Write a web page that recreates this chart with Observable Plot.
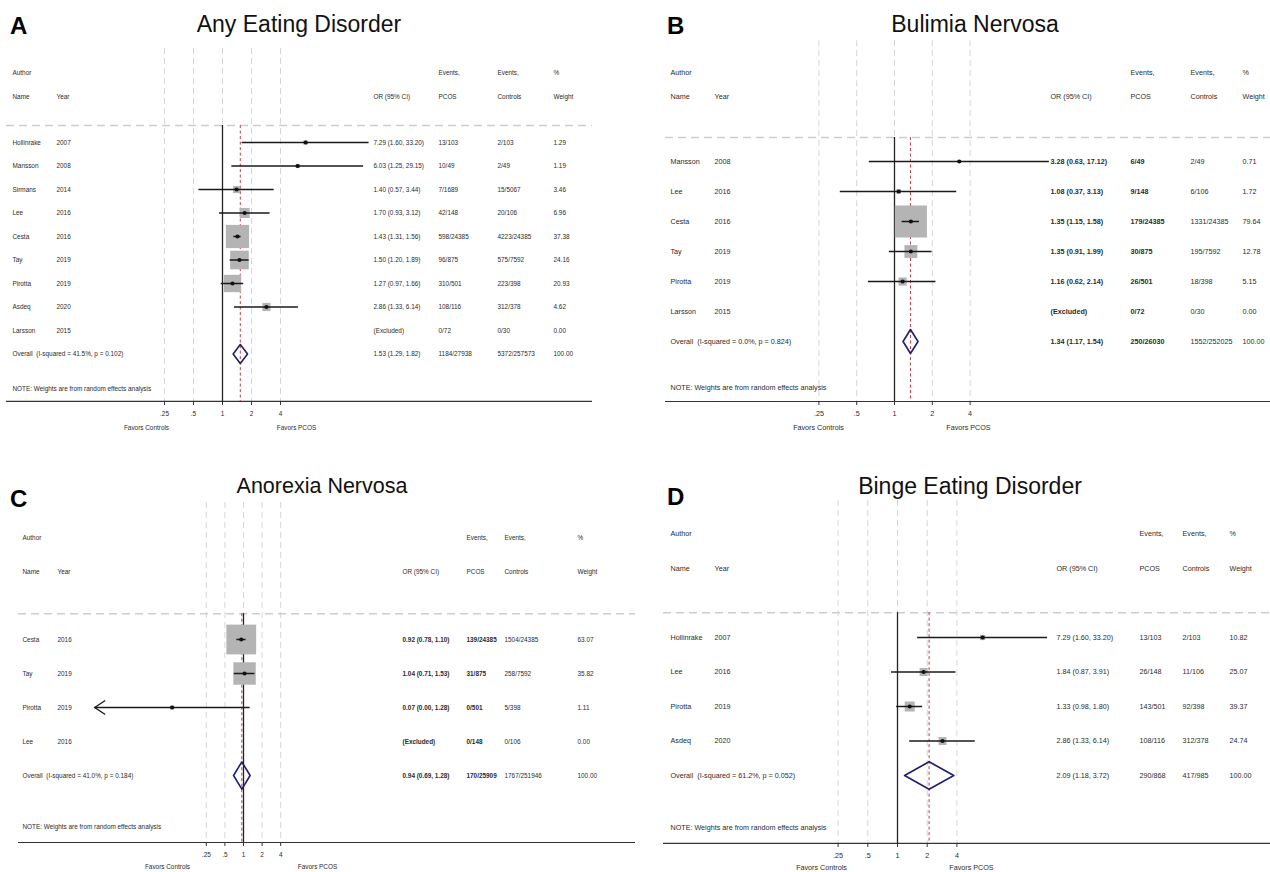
<!DOCTYPE html>
<html><head><meta charset="utf-8">
<script src="https://cdn.jsdelivr.net/npm/d3@7"></script>
<script src="https://cdn.jsdelivr.net/npm/@observablehq/plot@0.6"></script>
<style>
body{margin:0;background:#fff;}
#wrap{position:relative;width:1270px;height:872px;overflow:hidden;font-family:"Liberation Sans",Arial,sans-serif;}
.panel{position:absolute;}
.title{position:absolute;white-space:nowrap;color:#111;line-height:1;transform:translateX(-50%);}
.letter{position:absolute;font-weight:bold;color:#000;line-height:1;}
</style></head><body><div id="wrap"></div>
<script>
// ---------- shared labels ----------
const tickValues = [0.25, 0.5, 1, 2, 4];
const tickLabels = [".25", ".5", "1", "2", "4"];
const headerRow1 = ["Author", "", "", "Events,", "Events,", "%"];
const headerRow2 = ["Name", "Year", "OR (95% CI)", "PCOS", "Controls", "Weight"];
const favorsLabels = ["Favors Controls", "Favors PCOS"];
const noteText = "NOTE: Weights are from random effects analysis";

// ---------- Panel A: Any Eating Disorder ----------
const titleA = "Any Eating Disorder";
const authorsA = ["Hollinrake","Mansson","Sirmans","Lee","Cesta","Tay","Pirotta","Asdeq","Larsson"];
const yearsA = [2007,2008,2014,2016,2016,2019,2019,2020,2015];
const orA = [7.29,6.03,1.40,1.70,1.43,1.50,1.27,2.86,null];
const loA = [1.60,1.25,0.57,0.93,1.31,1.20,0.97,1.33,null];
const hiA = [33.20,29.15,3.44,3.12,1.56,1.89,1.66,6.14,null];
const pcosA = ["13/103","10/49","7/1689","42/148","598/24385","96/875","310/501","108/116","0/72"];
const ctrlA = ["2/103","2/49","15/5067","20/106","4223/24385","575/7592","223/398","312/378","0/30"];
const weightA = [1.29,1.19,3.46,6.96,37.38,24.16,20.93,4.62,0.00];
const overallA = [1.53,1.29,1.82];
const hetA = [41.5,0.102];
const overallPcosA = "1184/27938";
const overallCtrlA = "5372/257573";

// ---------- Panel B: Bulimia Nervosa ----------
const titleB = "Bulimia Nervosa";
const authorsB = ["Mansson","Lee","Cesta","Tay","Pirotta","Larsson"];
const yearsB = [2008,2016,2016,2019,2019,2015];
const orB = [3.28,1.08,1.35,1.35,1.16,null];
const loB = [0.63,0.37,1.15,0.91,0.62,null];
const hiB = [17.12,3.13,1.58,1.99,2.14,null];
const pcosB = ["6/49","9/148","179/24385","30/875","26/501","0/72"];
const ctrlB = ["2/49","6/106","1331/24385","195/7592","18/398","0/30"];
const weightB = [0.71,1.72,79.64,12.78,5.15,0.00];
const overallB = [1.34,1.17,1.54];
const hetB = [0.0,0.824];
const overallPcosB = "250/26030";
const overallCtrlB = "1552/252025";

// ---------- Panel C: Anorexia Nervosa ----------
const titleC = "Anorexia Nervosa";
const authorsC = ["Cesta","Tay","Pirotta","Lee"];
const yearsC = [2016,2019,2019,2016];
const orC = [0.92,1.04,0.07,null];
const loC = [0.78,0.71,0.00,null];
const hiC = [1.10,1.53,1.28,null];
const pcosC = ["139/24385","31/875","0/501","0/148"];
const ctrlC = ["1504/24385","258/7592","5/398","0/106"];
const weightC = [63.07,35.82,1.11,0.00];
const overallC = [0.94,0.69,1.28];
const hetC = [41.0,0.184];
const overallPcosC = "170/25909";
const overallCtrlC = "1767/251946";

// ---------- Panel D: Binge Eating Disorder ----------
const titleD = "Binge Eating Disorder";
const authorsD = ["Hollinrake","Lee","Pirotta","Asdeq"];
const yearsD = [2007,2016,2019,2020];
const orD = [7.29,1.84,1.33,2.86];
const loD = [1.60,0.87,0.98,1.33];
const hiD = [33.20,3.91,1.80,6.14];
const pcosD = ["13/103","26/148","143/501","108/116"];
const ctrlD = ["2/103","11/106","92/398","312/378"];
const weightD = [10.82,25.07,39.37,24.74];
const overallD = [2.09,1.18,3.72];
const hetD = [61.2,0.052];
const overallPcosD = "290/868";
const overallCtrlD = "417/985";

const panels = [
  {letter:"A", title:titleA, authors:authorsA, years:yearsA, or:orA, lo:loA, hi:hiA, pcos:pcosA, ctrl:ctrlA, weight:weightA, overall:overallA, het:hetA, ovPcos:overallPcosA, ovCtrl:overallCtrlA},
  {letter:"B", title:titleB, authors:authorsB, years:yearsB, or:orB, lo:loB, hi:hiB, pcos:pcosB, ctrl:ctrlB, weight:weightB, overall:overallB, het:hetB, ovPcos:overallPcosB, ovCtrl:overallCtrlB},
  {letter:"C", title:titleC, authors:authorsC, years:yearsC, or:orC, lo:loC, hi:hiC, pcos:pcosC, ctrl:ctrlC, weight:weightC, overall:overallC, het:hetC, ovPcos:overallPcosC, ovCtrl:overallCtrlC},
  {letter:"D", title:titleD, authors:authorsD, years:yearsD, or:orD, lo:loD, hi:hiD, pcos:pcosD, ctrl:ctrlD, weight:weightD, overall:overallD, het:hetD, ovPcos:overallPcosD, ovCtrl:overallCtrlD}
];

// ---------- layout (pixel geometry, kept apart from the data) ----------
const layouts = {
  A:{left:0, top:0, w:635, h:440, x1:222, dpx:29, row0:142, step:23.5, hdr1:-2.98, hdr2:-1.96, sep:-0.72, grid:-4, note:10.5, axis:11.02,
     lineL:6, lineR:592, cols:[12,56,373,438,497,553], font:6.4, k:3.8, bold:[], favDy:26, titleX:299, titleY:32, titleSize:23, letterX:10, letterY:34},
  B:{left:635, top:0, w:635, h:440, x1:259, dpx:37.8, row0:161, step:30, hdr1:-2.97, hdr2:-2.17, sep:-0.8, grid:-4.03, note:7.53, axis:8.0,
     lineL:30, lineR:635, cols:[35,79,415,495,555,607], font:7.2, k:3.6, bold:[2,3], favDy:26, titleX:975, titleY:32, titleSize:23, letterX:667, letterY:34},
  C:{left:0, top:440, w:635, h:432, x1:243, dpx:18.6, row0:199, step:34, hdr1:-3, hdr2:-2, sep:-0.76, grid:-4.03, note:5.5, axis:5.97,
     lineL:18, lineR:635, cols:[22,57,402,466,504,577], font:6.4, k:3.75, bold:[2,3], favDy:24, arrowMin:1/256, titleX:322, titleY:494, titleSize:21.5, letterX:10, letterY:507},
  D:{left:635, top:440, w:635, h:432, x1:262, dpx:29.7, row0:197, step:34.5, hdr1:-3, hdr2:-2, sep:-0.72, grid:-3.97, note:5.51, axis:5.97,
     lineL:28, lineR:635, cols:[35,79,421,504,547,594], font:7.2, k:1.6, bold:[], favDy:24, titleX:970, titleY:494, titleSize:23, letterX:667, letterY:505}
};

const fmtCI = (o,l,h) => `${o.toFixed(2)} (${l.toFixed(2)}, ${h.toFixed(2)})`;
const colKeys = ["name","year","orText","pcos","ctrl","wText"];
const textColor = "#2b2b2b";
const chevron = {draw(ctx){ ctx.moveTo(10.5,-7); ctx.lineTo(0,0); ctx.lineTo(10.5,7); }};
const tickData = tickValues.map((v,i) => ({v, label:tickLabels[i]}));

const wrap = document.getElementById("wrap");

for (const P of panels) {
  const L = layouts[P.letter];
  const n = P.authors.length;
  const rows = P.authors.map((a,i) => ({
    row:i, name:a, year:String(P.years[i]), or:P.or[i], lo:P.lo[i], hi:P.hi[i], w:P.weight[i],
    orText: P.or[i] == null ? "(Excluded)" : fmtCI(P.or[i],P.lo[i],P.hi[i]),
    pcos:P.pcos[i], ctrl:P.ctrl[i], wText:P.weight[i].toFixed(2)
  }));
  const [ovOr, ovLo, ovHi] = P.overall;
  const ovRow = {row:n, name:`Overall\u00a0\u00a0(I-squared = ${P.het[0].toFixed(1)}%, p = ${P.het[1].toFixed(3)})`, year:"",
    orText:fmtCI(ovOr,ovLo,ovHi), pcos:P.ovPcos, ctrl:P.ovCtrl, wText:(100).toFixed(2)};
  const table = [...rows, ovRow];
  const studies = rows.filter(d => d.or != null);
  const arrowed = studies.filter(d => d.lo <= 0);
  const diamond = [
    {x:ovLo, y:n}, {x:ovOr, y:n-0.4}, {x:ovHi, y:n}, {x:ovOr, y:n+0.4}, {x:ovLo, y:n}
  ];
  const axisPx = L.row0 + L.axis*L.step;
  const mL = L.lineL, mR = L.w - L.lineR;
  const fs = L.font;
  const tickLen = 4 / L.step;

  const marks = [
    Plot.ruleX(tickData, {x:"v", y1:()=>L.grid, y2:()=>L.axis, stroke:"#d6d6d6", strokeWidth:1, strokeDasharray:"6,4"}),
    Plot.ruleY([L.sep], {y:d=>d, stroke:"#cdcdcd", strokeWidth:1.5, strokeDasharray:"8,5"}),
    Plot.ruleY([L.axis], {y:d=>d, stroke:"#333", strokeWidth:1.2}),
    Plot.ruleX([1], {x:d=>d, y1:()=>L.sep, y2:()=>L.axis, stroke:"#222", strokeWidth:1.3}),
    Plot.ruleX([ovOr], {x:d=>d, y1:()=>L.sep, y2:()=>L.axis, stroke:"#b8404e", strokeWidth:1, strokeDasharray:"3,2.5"}),
    Plot.dot(studies, {x:"or", y:"row", r:"w", symbol:"square", fill:"#b4b4b4"}),
    Plot.ruleY(studies, {y:"row", x1:d => d.lo > 0 ? d.lo : L.arrowMin, x2:"hi", stroke:"#1a1a1a", strokeWidth:1.5}),
    Plot.dot(arrowed, {x:() => L.arrowMin, y:"row", symbol:chevron, stroke:"#1a1a1a", strokeWidth:1.3, fill:"none"}),
    Plot.dot(studies, {x:"or", y:"row", r:2.1, fill:"#111"}),
    Plot.line(diamond, {x:"x", y:"y", stroke:"#1f1f70", strokeWidth:1.6}),
    // x axis: tick marks and labels from the log scale
    Plot.ruleX(tickData, {x:"v", y1:()=>L.axis, y2:()=>L.axis + tickLen, stroke:"#333", strokeWidth:1}),
    Plot.text(tickData, {x:"v", y:()=>L.axis, text:"label", dy:12.5, fontSize:fs, fill:textColor}),
    Plot.text([favorsLabels[0]], {x:()=>1, y:()=>L.axis, text:d=>d, dx:-76, dy:L.favDy, fontSize:fs, fill:textColor}),
    Plot.text([favorsLabels[1]], {x:()=>1, y:()=>L.axis, text:d=>d, dx:74, dy:L.favDy, fontSize:fs, fill:textColor}),
    Plot.text([noteText], {y:()=>L.note, text:d=>d, frameAnchor:"left", dx:L.cols[0]-mL, textAnchor:"start", fontSize:fs, fill:textColor})
  ];
  colKeys.forEach((key, c) => {
    const dx = L.cols[c] - mL;
    const fw = L.bold.includes(c) ? "bold" : "normal";
    marks.push(Plot.text(table, {y:"row", text:key, frameAnchor:"left", dx, textAnchor:"start", fontSize:fs, fill:textColor, fontWeight:fw}));
    marks.push(Plot.text([headerRow1[c]], {y:()=>L.hdr1, text:d=>d, frameAnchor:"left", dx, textAnchor:"start", fontSize:fs, fill:textColor}));
    marks.push(Plot.text([headerRow2[c]], {y:()=>L.hdr2, text:d=>d, frameAnchor:"left", dx, textAnchor:"start", fontSize:fs, fill:textColor}));
  });

  const chart = Plot.plot({
    width:L.w, height:L.h,
    marginLeft:mL, marginRight:mR, marginTop:0, marginBottom:L.h - axisPx,
    style:{background:"transparent", fontFamily:"'Liberation Sans', Arial, sans-serif", overflow:"visible"},
    x:{type:"log", domain:[tickValues[0], tickValues[tickValues.length-1]], range:[L.x1 - 2*L.dpx, L.x1 + 2*L.dpx], axis:null},
    y:{type:"linear", domain:[0,1], range:[L.row0, L.row0 + L.step], axis:null},
    r:{type:"sqrt", domain:[0,100], range:[0, L.k*10/Math.sqrt(Math.PI)]},
    marks
  });
  const div = document.createElement("div");
  div.className = "panel";
  div.style.left = L.left + "px";
  div.style.top = L.top + "px";
  div.appendChild(chart);
  wrap.appendChild(div);

  const t = document.createElement("div");
  t.className = "title";
  t.textContent = P.title;
  t.style.fontSize = L.titleSize + "px";
  t.style.left = L.titleX + "px";
  t.style.top = (L.titleY - 0.8465*L.titleSize) + "px";
  wrap.appendChild(t);

  const lt = document.createElement("div");
  lt.className = "letter";
  lt.textContent = P.letter;
  lt.style.fontSize = "24px";
  lt.style.left = L.letterX + "px";
  lt.style.top = (L.letterY - 0.8465*24) + "px";
  wrap.appendChild(lt);
}
</script>
</body></html>
